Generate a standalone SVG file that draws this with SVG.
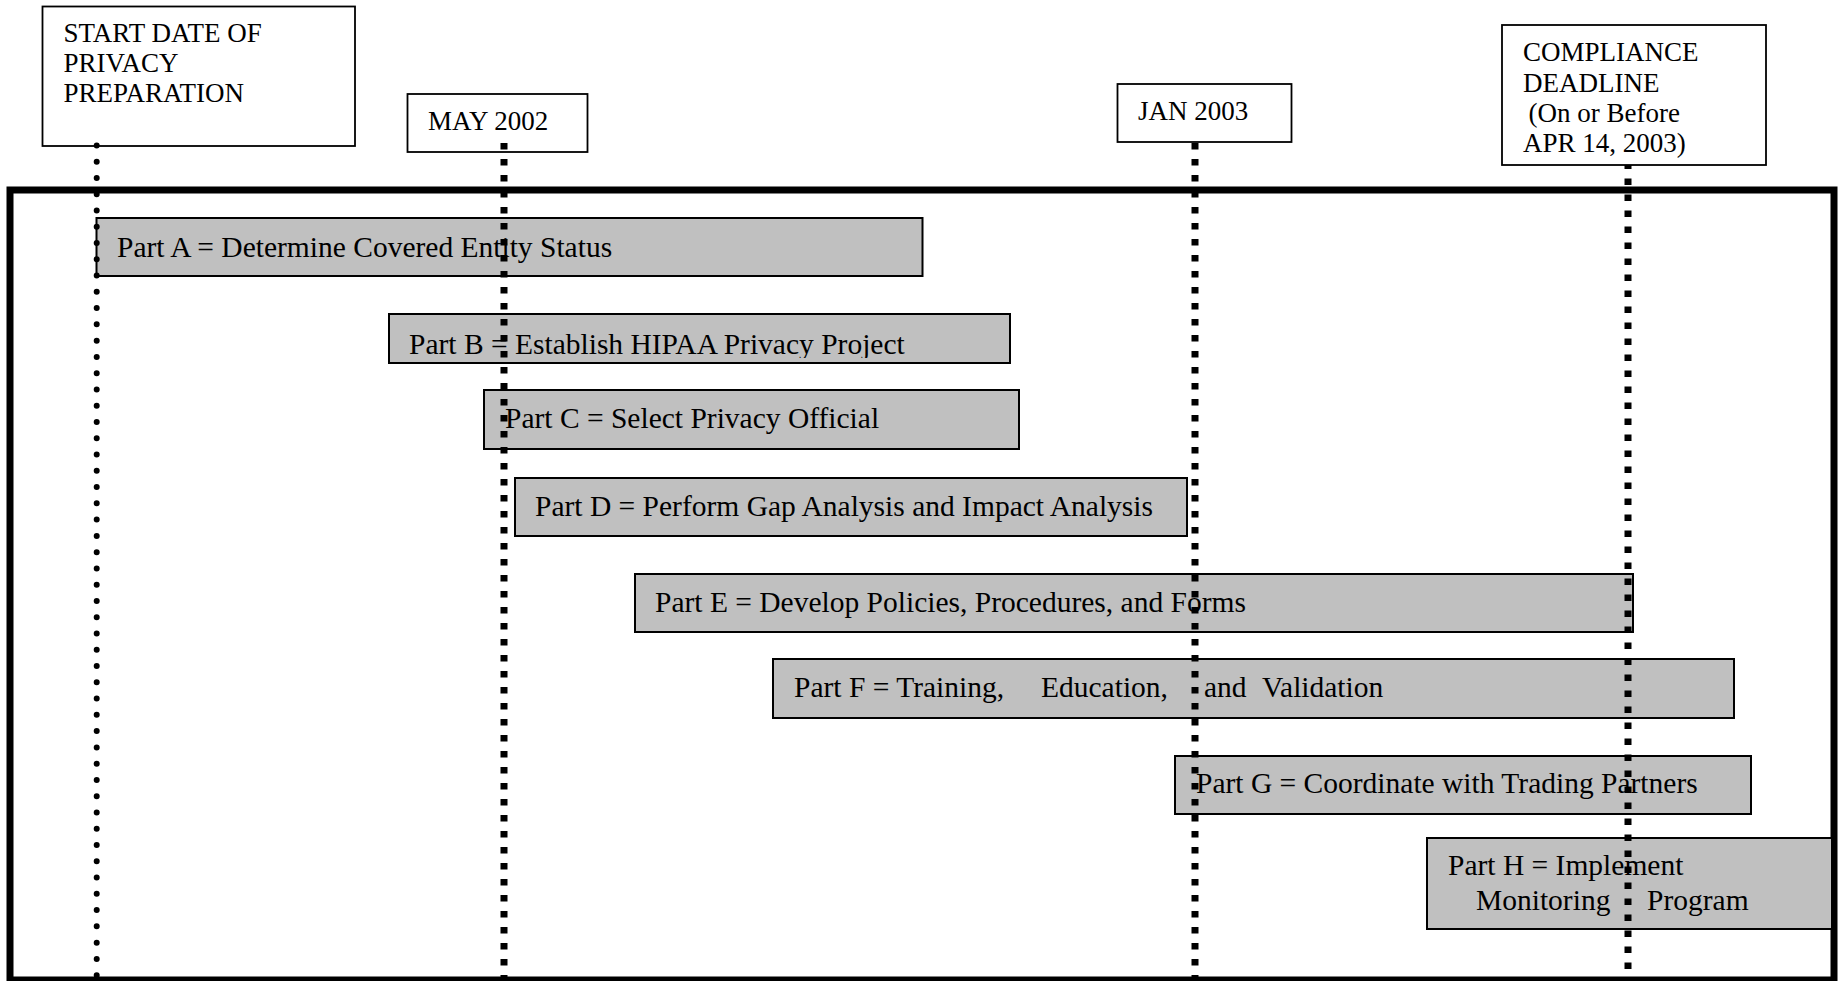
<svg xmlns="http://www.w3.org/2000/svg" width="1843" height="981" viewBox="0 0 1843 981">
<style>
  .hdr { fill: #ffffff; stroke: #000000; stroke-width: 1.8; }
  .bar { fill: #c0c0c0; stroke: #000000; stroke-width: 2; }
  .ht { font-family: "Liberation Serif", "Times New Roman", serif; font-size: 27px; fill: #000000; }
  .bt { font-family: "Liberation Serif", "Times New Roman", serif; font-size: 29.5px; fill: #000000; }
  .dotline { stroke: #000000; stroke-width: 6; stroke-linecap: round; stroke-dasharray: 0 16.27; fill: none; }
  .sqline { stroke: #000000; stroke-width: 7; stroke-dasharray: 6.5 9.5; fill: none; }
</style>
<defs>
  <clipPath id="clipB"><rect x="389" y="314" width="621" height="44"/></clipPath>
</defs>
<rect x="0" y="0" width="1843" height="981" fill="#ffffff"/>

<g id="frame">
  <rect x="10" y="190" width="1824" height="790" fill="none" stroke="#000000" stroke-width="7"/>
</g>

<g id="start-date">
  <rect class="hdr" x="42.5" y="6.5" width="312.5" height="139.5"/>
  <text class="ht" x="63.5" y="42">START DATE OF</text>
  <text class="ht" x="63.5" y="72">PRIVACY</text>
  <text class="ht" x="63.5" y="102">PREPARATION</text>
</g>

<g id="may-2002">
  <rect class="hdr" x="407.5" y="94" width="180" height="58"/>
  <text class="ht" x="428" y="130">MAY 2002</text>
</g>

<g id="jan-2003">
  <rect class="hdr" x="1117.5" y="84" width="174" height="58"/>
  <text class="ht" x="1138" y="120">JAN 2003</text>
</g>

<g id="compliance-deadline">
  <rect class="hdr" x="1502" y="25" width="264" height="140"/>
  <text class="ht" x="1523" y="61">COMPLIANCE</text>
  <text class="ht" x="1523" y="92">DEADLINE</text>
  <text class="ht" x="1528.5" y="122">(On or Before</text>
  <text class="ht" x="1523" y="152">APR 14, 2003)</text>
</g>

<g id="part-a">
  <rect class="bar" x="96.5" y="218" width="826" height="58"/>
  <text class="bt" x="117" y="257">Part A = Determine Covered Entity Status</text>
</g>

<g id="part-b">
  <rect class="bar" x="389" y="314" width="621" height="49"/>
  <text class="bt" x="409" y="354" clip-path="url(#clipB)">Part B = Establish HIPAA Privacy Project</text>
</g>

<g id="part-c">
  <rect class="bar" x="484" y="390" width="535" height="59"/>
  <text class="bt" x="505" y="428">Part C = Select Privacy Official</text>
</g>

<g id="part-d">
  <rect class="bar" x="515" y="478" width="672" height="58"/>
  <text class="bt" x="535" y="516">Part D = Perform Gap Analysis and Impact Analysis</text>
</g>

<g id="part-e">
  <rect class="bar" x="635" y="574" width="998" height="58"/>
  <text class="bt" x="655" y="612">Part E = Develop Policies, Procedures, and Forms</text>
</g>

<g id="part-f">
  <rect class="bar" x="773" y="659" width="961" height="59"/>
  <text class="bt" y="697"><tspan x="794">Part F = Training,</tspan><tspan x="1041">Education,</tspan><tspan x="1204">and</tspan><tspan x="1262">Validation</tspan></text>
</g>

<g id="part-g">
  <rect class="bar" x="1175" y="756" width="576" height="58"/>
  <text class="bt" x="1196" y="793">Part G = Coordinate with Trading Partners</text>
</g>

<g id="part-h">
  <rect class="bar" x="1427" y="838" width="405" height="91"/>
  <text class="bt" x="1448" y="875">Part H = Implement</text>
  <text class="bt" y="910"><tspan x="1476">Monitoring</tspan><tspan x="1647">Program</tspan></text>
</g>

<g id="connectors">
  <line class="dotline" x1="96.7" y1="145.4" x2="96.7" y2="981"/>
  <line class="sqline" x1="504" y1="143" x2="504" y2="981"/>
  <line class="sqline" x1="1195" y1="143" x2="1195" y2="981"/>
  <line class="sqline" x1="1628" y1="165" x2="1628" y2="981" stroke-dashoffset="2.5"/>
</g>
</svg>
